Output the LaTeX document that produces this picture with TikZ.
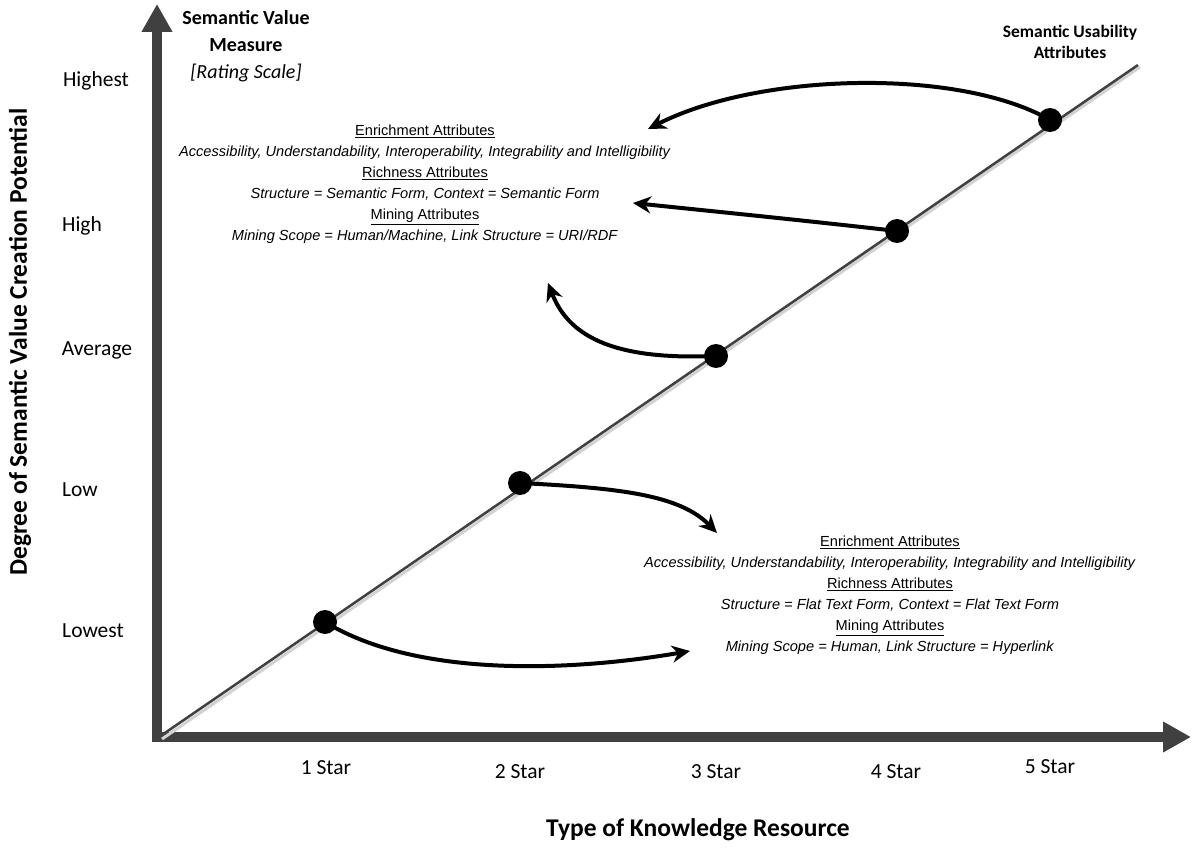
\documentclass[tikz,border=0pt]{standalone}
\usepackage{fontspec}
\setmainfont{Carlito}
\newfontfamily\arialfont{Liberation Sans}
\usetikzlibrary{arrows.meta}
\definecolor{axisgray}{HTML}{404040}
\tikzset{
  axis/.style={line width=10pt, axisgray, -{Triangle[length=28pt,width=29pt]}},
  dot/.style={circle, fill=black, inner sep=0pt, minimum size=24pt},
  curve/.style={line width=4pt, -{Stealth[length=18pt,width=17pt]}},
  level/.style={font=\fontsize{21.5}{24}\selectfont},
  star/.style={font=\fontsize{21.5}{24}\selectfont},
  attr/.style={align=center, font=\arialfont\fontsize{14.6}{21}\selectfont}
}
\begin{document}
\begin{tikzpicture}[x=1pt, y=-1pt]
    \useasboundingbox (0,0) rectangle (1200,853);
    % axes
    \coordinate (o) at (157,737);
    \coordinate (ytop) at (157,4);
    \coordinate (xend) at (1191,737);
    \draw[axis] (157,742) -- (ytop);
    \draw[axis] (152,737) -- (xend);
    % diagonal
    \coordinate (p) at (162,739);
    \coordinate (q) at (1140,67);
    \draw[line width=3pt, gray!35] (p) -- (q);
    \coordinate (s) at (159,737);
    \coordinate (t) at (1138,65);
    \draw[line width=2.5pt, axisgray] (s) -- (t);
    % end points of the curved arrows
    \coordinate (e1) at (690,651);
    \coordinate (e2) at (717,533);
    \coordinate (e3) at (548,283);
    \coordinate (e4) at (633,203);
    \coordinate (e5) at (648,129);
    \draw[curve] (325,622) .. controls (420,680) and (580,670) .. (e1);
    \draw[curve] (520,483) .. controls (620,488) and (680,495) .. (e2);
    \draw[curve] (716,356) .. controls (620,360) and (570,340) .. (e3);
    \draw[curve] (897,231) .. controls (800,220) and (720,212) .. (e4);
    \draw[curve] (1050,120) .. controls (960,68) and (760,72) .. (e5);
    % dots
    \node[dot] (d1) at (325,622) {};
    \node[dot] (d2) at (520,483) {};
    \node[dot] (d3) at (716,356) {};
    \node[dot] (d4) at (897,231) {};
    \node[dot] (d5) at (1050,120) {};
    % levels
    \node[level] (l5) at (96,81) {Highest};
    \node[level] (l4) at (82,226) {High};
    \node[level] (l3) at (97,350) {Average};
    \node[level] (l2) at (80,490) {Low};
    \node[level] (l1) at (93,631) {Lowest};
    % stars
    \node[star] (s1) at (326,768) {1 Star};
    \node[star] (s2) at (520,772) {2 Star};
    \node[star] (s3) at (716,772) {3 Star};
    \node[star] (s4) at (896,772) {4 Star};
    \node[star] (s5) at (1050,767) {5 Star};
    % titles
    \node[font=\bfseries\fontsize{25.5}{28}\selectfont] (xt) at (698,830) {Type of Knowledge Resource};
    \node[font=\bfseries\fontsize{25.5}{28}\selectfont, rotate=90] (yt) at (20,342) {Degree of Semantic Value Creation Potential};
    \node[align=center, font=\fontsize{20}{27}\selectfont] (mt) at (246,46)
      {\textbf{Semantic Value}\\\textbf{Measure}\\\textit{[Rating Scale]}};
    \node[align=center, font=\bfseries\fontsize{17.5}{21}\selectfont] (ut) at (1070,42)
      {Semantic Usability\\Attributes};
    % attribute blocks
    \node[attr] (hi) at (425,184)
      {\underline{Enrichment Attributes}\\
       \textit{Accessibility, Understandability, Interoperability, Integrability and Intelligibility}\\
       \underline{Richness Attributes}\\
       \textit{Structure = Semantic Form, Context = Semantic Form}\\
       \underline{Mining Attributes}\\
       \textit{Mining Scope = Human/Machine, Link Structure = URI/RDF}};
    \node[attr] (lo) at (890,595)
      {\underline{Enrichment Attributes}\\
       \textit{Accessibility, Understandability, Interoperability, Integrability and Intelligibility}\\
       \underline{Richness Attributes}\\
       \textit{Structure = Flat Text Form, Context = Flat Text Form}\\
       \underline{Mining Attributes}\\
       \textit{Mining Scope = Human, Link Structure = Hyperlink}};
\end{tikzpicture}
\end{document}
